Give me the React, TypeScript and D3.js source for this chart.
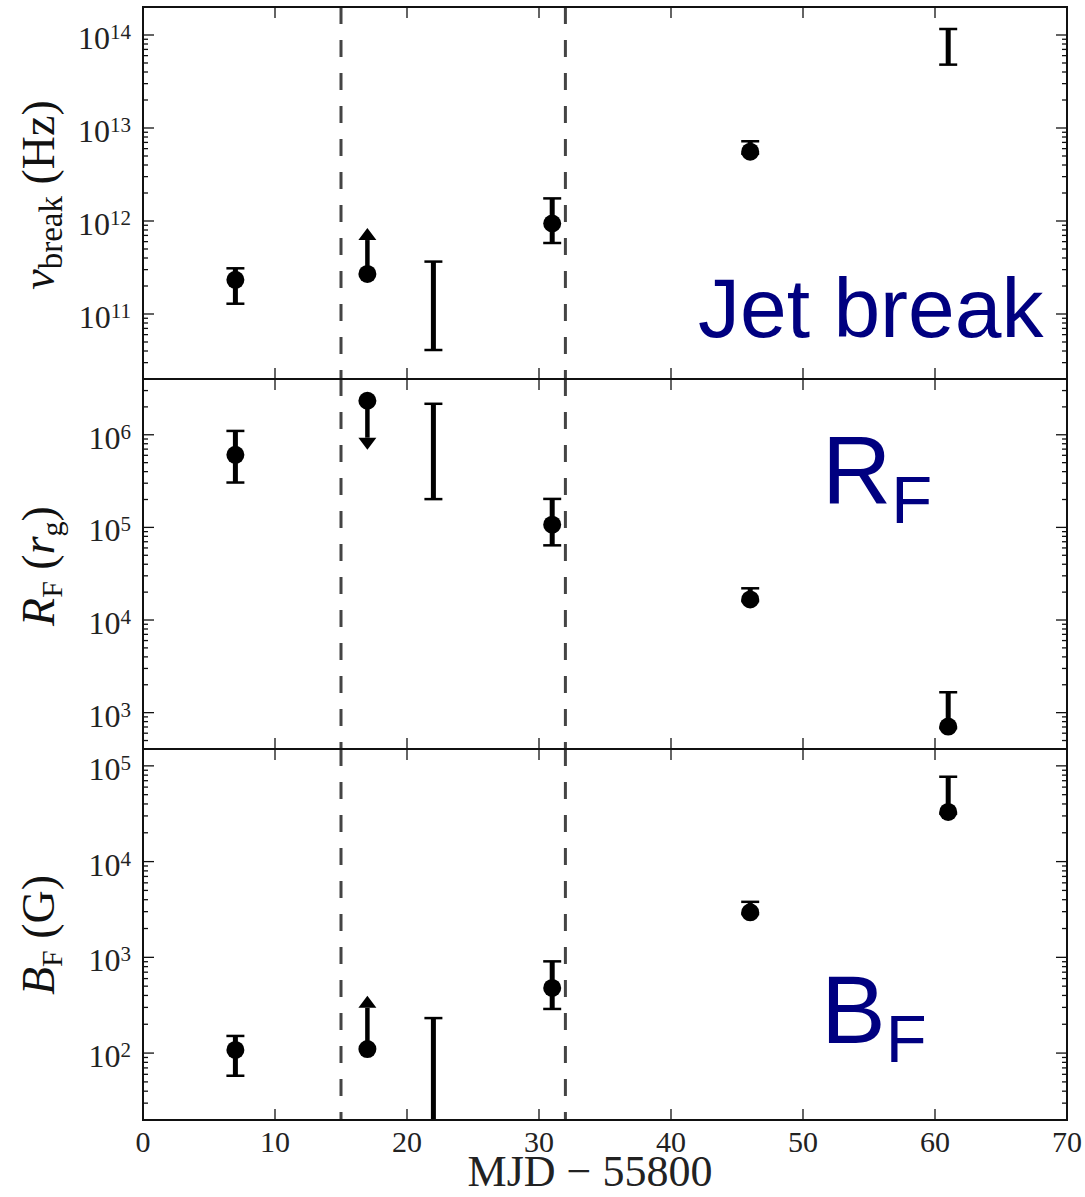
import * as d3 from "d3";

const W = 1085;
const H = 1197;
const left = 143;
const right = 1067;

// days since MJD 55800
const epochs = [7, 17, 22, 31, 46, 61];
const xTicks = [0, 10, 20, 30, 40, 50, 60, 70];
const markerDays = [15, 32];

// jet break frequency (Hz)
const nuBreak = [2.33e11, 2.7e11, NaN, 9.4e11, 5.56e12, NaN];
const nuBreakLow = [1.29e11, NaN, 4.1e10, 5.8e11, 5.3e12, 4.8e13];
const nuBreakHigh = [3.1e11, NaN, 3.66e11, 1.75e12, 7.2e12, 1.16e14];
const nuBreakLimit = [NaN, 8.4e11, NaN, NaN, NaN, NaN];

// flaring radius (r_g)
const rF = [6.08e5, 2.33e6, NaN, 1.07e5, 1.67e4, 707];
const rFLow = [3.05e5, NaN, 2.02e5, 6.4e4, 1.6e4, 680];
const rFHigh = [1.1e6, NaN, 2.16e6, 2.03e5, 2.2e4, 1.66e3];
const rFLimit = [NaN, 6.9e5, NaN, NaN, NaN, NaN];

// magnetic field (G)
const bF = [108, 110, NaN, 479, 2950, 3.3e4];
const bFLow = [58, NaN, 8, 289, 2830, 3.17e4];
const bFHigh = [151, NaN, 232, 908, 3800, 7.7e4];
const bFLimit = [NaN, 396, NaN, NaN, NaN, NaN];

const panels = [
  { id: "nu", top: 7, bottom: 379, domain: [2e10, 2e14], val: nuBreak, lo: nuBreakLow, hi: nuBreakHigh, lim: nuBreakLimit, labelY: 195 },
  { id: "rf", top: 379, bottom: 749, domain: [4.05e2, 4e6], val: rF, lo: rFLow, hi: rFHigh, lim: rFLimit, labelY: 566 },
  { id: "bf", top: 749, bottom: 1120, domain: [20, 1.5e5], val: bF, lo: bFLow, hi: bFHigh, lim: bFLimit, labelY: 935 },
];

const serif = "'Liberation Serif', 'DejaVu Serif', serif";
const sans = "'Liberation Sans', Arial, sans-serif";
const navy = "#000080";
const ink = "#111";

const x = d3.scaleLinear().domain([0, 70]).range([left, right]);

const YLabel = ({ id, cy }) => {
  const t = `translate(54, ${cy}) rotate(-90)`;
  if (id === "nu")
    return (
      <text transform={t} textAnchor="middle" fontFamily={serif} fontSize={46} fill={ink}>
        <tspan fontStyle="italic">ν</tspan>
        <tspan fontSize={33} dy={8}>break</tspan>
        <tspan dy={-8}> (Hz)</tspan>
      </text>
    );
  if (id === "rf")
    return (
      <text transform={t} textAnchor="middle" fontFamily={serif} fontSize={46} fill={ink}>
        <tspan fontStyle="italic">R</tspan>
        <tspan fontSize={30} dy={8}>F</tspan>
        <tspan dy={-8}> (</tspan>
        <tspan fontStyle="italic">r</tspan>
        <tspan fontSize={30} dy={8}>g</tspan>
        <tspan dy={-8}>)</tspan>
      </text>
    );
  return (
    <text transform={t} textAnchor="middle" fontFamily={serif} fontSize={46} fill={ink}>
      <tspan fontStyle="italic">B</tspan>
      <tspan fontSize={30} dy={8}>F</tspan>
      <tspan dy={-8}> (G)</tspan>
    </text>
  );
};

const Panel = ({ p, last }) => {
  const y = d3.scaleLog().domain(p.domain).range([p.bottom, p.top]);
  const ticks = y.ticks();
  const isMajor = (v) => Math.abs(Math.log10(v) - Math.round(Math.log10(v))) < 1e-9;
  const clipId = `clip-${p.id}`;
  return (
    <g>
      <defs>
        <clipPath id={clipId}>
          <rect x={left} y={p.top} width={right - left} height={p.bottom - p.top} />
        </clipPath>
      </defs>
      <g clipPath={`url(#${clipId})`}>
        {markerDays.map((d) => (
          <line key={d} x1={x(d)} x2={x(d)} y1={p.top} y2={p.bottom}
            stroke="#444" strokeWidth={3} strokeDasharray="17 16" />
        ))}
        {epochs.map((e, i) => {
          const cx = x(e);
          const hasBar = isFinite(p.lo[i]) && isFinite(p.hi[i]);
          return (
            <g key={e}>
              {hasBar && (
                <g stroke="#000">
                  <line x1={cx} x2={cx} y1={y(p.lo[i])} y2={y(p.hi[i])} strokeWidth={5} />
                  <line x1={cx - 9} x2={cx + 9} y1={y(p.lo[i])} y2={y(p.lo[i])} strokeWidth={2.5} />
                  <line x1={cx - 9} x2={cx + 9} y1={y(p.hi[i])} y2={y(p.hi[i])} strokeWidth={2.5} />
                </g>
              )}
              {isFinite(p.lim[i]) && (() => {
                const y0 = y(p.val[i]);
                const y1 = y(p.lim[i]);
                const dir = y1 < y0 ? 1 : -1;
                const base = y1 + dir * 12;
                return (
                  <g>
                    <line x1={cx} x2={cx} y1={y0} y2={base} stroke="#000" strokeWidth={4.5} />
                    <path d={`M${cx - 9},${base} L${cx + 9},${base} L${cx},${y1} Z`} fill="#000" />
                  </g>
                );
              })()}
              {isFinite(p.val[i]) && <circle cx={cx} cy={y(p.val[i])} r={9} fill="#000" />}
            </g>
          );
        })}
      </g>
      {/* ticks */}
      <g stroke={ink} strokeWidth={1.3}>
        {ticks.map((t, i) => {
          const len = isMajor(t) ? 11 : 5;
          const ty = y(t);
          return (
            <g key={i}>
              <line x1={left} x2={left + len} y1={ty} y2={ty} />
              <line x1={right} x2={right - len} y1={ty} y2={ty} />
            </g>
          );
        })}
        {xTicks.map((t) => (
          <g key={t}>
            <line x1={x(t)} x2={x(t)} y1={p.top} y2={p.top + 11} />
            <line x1={x(t)} x2={x(t)} y1={p.bottom} y2={p.bottom - 11} />
          </g>
        ))}
      </g>
      {ticks.filter(isMajor).map((t, i) => (
        <text key={i} x={131} y={y(t) + 14} textAnchor="end" fontFamily={serif} fontSize={32} fill="#222">
          10
          <tspan fontSize={21} dy={-10}>{Math.round(Math.log10(t))}</tspan>
        </text>
      ))}
      <rect x={left} y={p.top} width={right - left} height={p.bottom - p.top}
        fill="none" stroke={ink} strokeWidth={2} />
      <YLabel id={p.id} cy={p.labelY} />
      {last && xTicks.map((t) => (
        <text key={t} x={x(t)} y={p.bottom + 32} textAnchor="middle" fontFamily={serif} fontSize={30} fill="#222">
          {t}
        </text>
      ))}
    </g>
  );
};

export default function App() {
  return (
    <svg width={W} height={H} style={{ position: "absolute", left: 0, top: 0, background: "#fff" }}>
      <rect width={W} height={H} fill="#fff" />
      {panels.map((p, i) => (
        <Panel key={p.id} p={p} last={i === panels.length - 1} />
      ))}
      <text x={590} y={1186} textAnchor="middle" fontFamily={serif} fontSize={44} fill="#222">
        MJD − 55800
      </text>
      <text x={698} y={337} fontFamily={sans} fontSize={84} fill={navy}>Jet break</text>
      <text x={822} y={504} fontFamily={sans} fontSize={96} fill={navy}>
        R<tspan fontSize={67} dy={19}>F</tspan>
      </text>
      <text x={821} y={1043} fontFamily={sans} fontSize={97} fill={navy}>
        B<tspan fontSize={67} dy={19}>F</tspan>
      </text>
    </svg>
  );
}
